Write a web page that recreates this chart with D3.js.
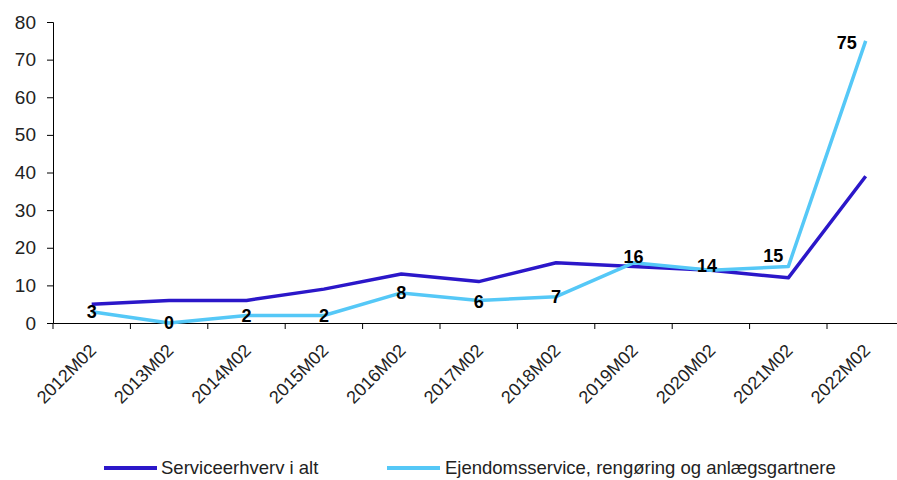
<!DOCTYPE html>
<html><head><meta charset="utf-8">
<script src="https://cdn.jsdelivr.net/npm/d3@7"></script>
<style>
html,body{margin:0;padding:0;background:#fff;}
svg{display:block;font-family:"Liberation Sans",Arial,sans-serif;}
</style></head>
<body>
<svg id="chart" width="897" height="480"></svg>
<script>
const categories = ["2012M02","2013M02","2014M02","2015M02","2016M02","2017M02","2018M02","2019M02","2020M02","2021M02","2022M02"];
const serviceTotal = [5,6,6,9,13,11,16,15,14,12,39];
const ejendomsservice = [3,0,2,2,8,6,7,16,14,15,75];
const yTicks = [0,10,20,30,40,50,60,70,80];
const seriesNames = ["Serviceerhverv i alt","Ejendomsservice, rengøring og anlægsgartnere"];
const colors = ["#2B17C9","#55C8F7"];
// label nudges (style) for the light series
const labelNudge = [[0,0],[0,0],[0,0],[0,0],[0,0],[0,1],[0,0],[0,-6],[-4,-5],[-15,-11],[-19,2]];

const svg = d3.select("#chart");
const x = d3.scaleBand().domain(categories).range([53, 904.4]);
const y = d3.scaleLinear().domain([0,80]).range([323, 22]);

// y axis
const yAxis = svg.append("g").attr("transform","translate(53,0)")
  .call(d3.axisLeft(y).tickValues(yTicks).tickSize(6).tickPadding(11));
yAxis.select(".domain").attr("stroke","#000");
yAxis.selectAll(".tick line").attr("stroke","#000");
yAxis.selectAll("text").attr("font-size","19px").attr("fill","#222")
  .attr("font-family","Liberation Sans, Arial, sans-serif");

// x axis
const xAxis = svg.append("g").attr("transform","translate(0,323)")
  .call(d3.axisBottom(x).tickSize(0).tickSizeOuter(0));
xAxis.select(".domain").attr("stroke","#000");
xAxis.selectAll(".tick line").remove();
// ticks at band boundaries
xAxis.selectAll(".bt").data(categories).enter().append("line")
  .attr("x1", d => x(d)).attr("x2", d => x(d))
  .attr("y1", 0).attr("y2", 6).attr("stroke", "#000");
xAxis.selectAll(".tick text")
  .attr("font-size","18px").attr("fill","#222")
  .attr("font-family","Liberation Sans, Arial, sans-serif")
  .attr("text-anchor","end")
  .attr("transform","translate(-1,22) rotate(-45)")
  .attr("dy","0.35em");

const line = d3.line().x((d,i)=>x(categories[i]) + x.bandwidth()/2).y(d=>y(d));

[serviceTotal, ejendomsservice].forEach((s,k)=>{
  svg.append("path").datum(s).attr("d", line)
    .attr("fill","none").attr("stroke",colors[k]).attr("stroke-width",3.5)
    .attr("stroke-linejoin","round");
});

// data labels
svg.selectAll(".lbl").data(ejendomsservice).enter().append("text")
  .attr("x",(d,i)=>x(categories[i]) + x.bandwidth()/2 + labelNudge[i][0])
  .attr("y",(d,i)=>y(d) + labelNudge[i][1])
  .attr("text-anchor","middle").attr("dy","0.36em")
  .attr("font-size","18px").attr("font-weight","bold").attr("fill","#000")
  .text(d=>d);

// legend
const legendItems = [{x1:104,x2:157,tx:161},{x1:387,x2:440,tx:445}];
legendItems.forEach((it,k)=>{
  svg.append("line").attr("x1",it.x1).attr("x2",it.x2).attr("y1",468).attr("y2",468)
    .attr("stroke",colors[k]).attr("stroke-width",4);
  svg.append("text").attr("x",it.tx).attr("y",468).attr("dy","0.35em")
    .attr("font-size","18.5px").attr("fill","#222").text(seriesNames[k]);
});
</script>
</body></html>
